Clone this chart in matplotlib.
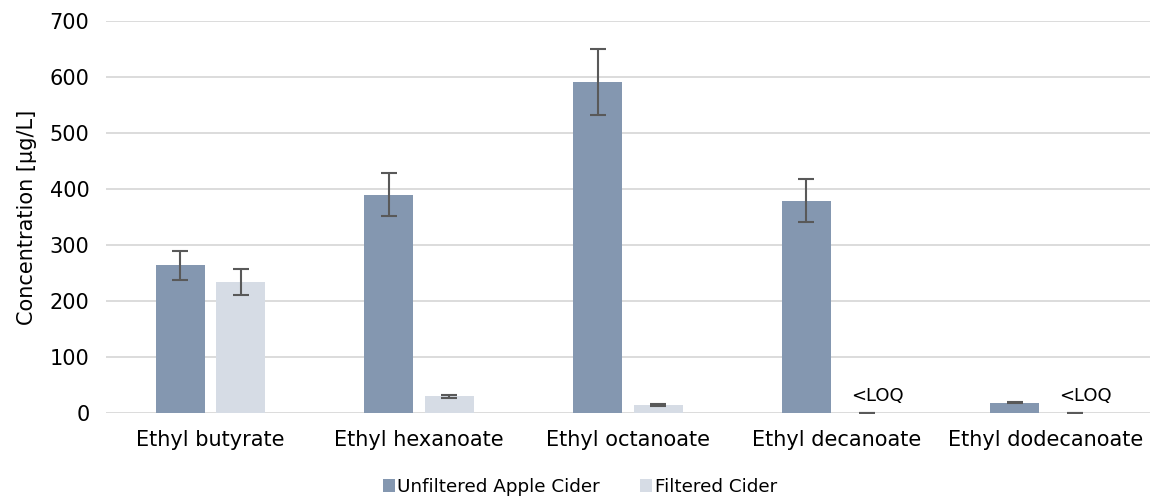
import matplotlib
matplotlib.use("Agg")
import matplotlib.pyplot as plt
import numpy as np

# data
compounds = ["Ethyl butyrate", "Ethyl hexanoate", "Ethyl octanoate",
             "Ethyl decanoate", "Ethyl dodecanoate"]
unfiltered = [264, 390, 591, 379, 19]
unfiltered_err = [26, 38, 59, 38, 1.5]
filtered = [234, 30, 15, 0, 0]
filtered_err = [23, 3, 2, 0, 0]
loq_flags = [False, False, False, True, True]

plt.rcParams["font.family"] = ["DejaVu Sans"]

fig = plt.figure(figsize=(11.53, 4.96), dpi=100)
ax = fig.add_axes([0.092, 0.167, 0.905, 0.791])

x = np.arange(len(compounds))
w = 0.235
off = 0.145

ax.bar(x - off, unfiltered, w, color="#8497B0", label="Unfiltered Apple Cider", zorder=2)
ax.bar(x + off, filtered, w, color="#D6DCE5", label="Filtered Cider", zorder=2)

ekw = dict(fmt="none", ecolor="#595959", elinewidth=1.5, capsize=6, capthick=1.5, zorder=3)
ax.errorbar(x - off, unfiltered, yerr=unfiltered_err, **ekw)
ax.errorbar(x + off, filtered, yerr=filtered_err, **ekw)

for i, flag in enumerate(loq_flags):
    if flag:
        ax.text(x[i] + off + 0.05, 30, "<LOQ", ha="center", va="center",
                fontsize=13, color="#000000")

ax.set_ylim(0, 700)
ax.set_yticks(range(0, 701, 100))
ax.set_xlim(-0.5, len(compounds) - 0.5)
ax.set_xticks(x)
ax.set_xticklabels(compounds)
ax.yaxis.grid(True, color="#D9D9D9", linewidth=1.3, zorder=0)
ax.set_axisbelow(True)
for s in ax.spines.values():
    s.set_visible(False)
ax.tick_params(axis="both", length=0, labelsize=15, colors="#000000")
ax.tick_params(axis="y", pad=12)
ax.tick_params(axis="x", pad=12)
ax.set_ylabel("Concentration [µg/L]", fontsize=15, labelpad=9)

fig.legend(loc="lower center", ncol=2, frameon=False, fontsize=13.2,
           handlelength=0.65, handleheight=0.65, handletextpad=0.15,
           columnspacing=2.2, bbox_to_anchor=(0.503, -0.033))

fig.savefig("out.png", dpi=100)
